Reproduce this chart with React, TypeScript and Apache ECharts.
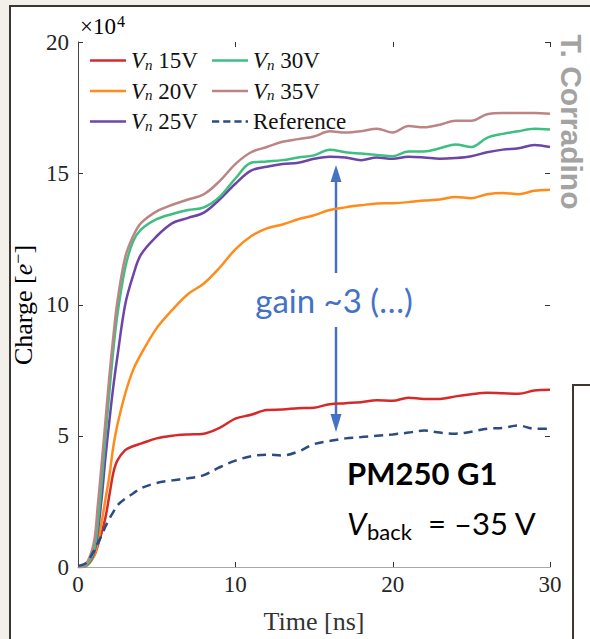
import React, { useEffect, useRef } from "react";
import * as echarts from "echarts";

// time axis (ns)
const TIME = [0, 0.5, 1, 1.25, 1.5, 1.75, 2, 2.25, 2.5, 3, 3.5, 4, 5, 6, 7, 8, 9, 10, 11, 12, 13, 14, 15, 16, 17, 18, 19, 20, 21, 22, 23, 24, 25, 26, 27, 28, 29, 30];

// charge values in units of 1e4 electrons
const VN15 = [0, 0.05, 0.4, 0.8, 1.3, 1.9, 2.75, 3.6, 4.05, 4.45, 4.6, 4.7, 4.9, 5.0, 5.05, 5.08, 5.3, 5.65, 5.8, 5.98, 6.0, 6.05, 6.07, 6.2, 6.24, 6.28, 6.35, 6.33, 6.45, 6.4, 6.4, 6.5, 6.58, 6.64, 6.62, 6.6, 6.72, 6.75];
const VN20 = [0, 0.03, 0.4, 0.9, 1.7, 2.6, 3.5, 4.6, 5.4, 6.6, 7.5, 8.1, 9.1, 9.8, 10.4, 10.8, 11.4, 12.1, 12.6, 12.9, 13.05, 13.25, 13.4, 13.6, 13.7, 13.78, 13.85, 13.86, 13.9, 13.96, 14.0, 14.1, 14.05, 14.2, 14.25, 14.2, 14.33, 14.37];
const VN25 = [0, 0.05, 0.5, 1.3, 2.6, 4.2, 5.6, 6.9, 8.0, 10.0, 11.1, 11.9, 12.6, 13.1, 13.3, 13.5, 14.0, 14.6, 15.1, 15.25, 15.35, 15.4, 15.55, 15.63, 15.6, 15.5, 15.6, 15.55, 15.63, 15.6, 15.55, 15.58, 15.65, 15.8, 15.9, 15.95, 16.08, 16.0];
const VN30 = [0, 0.05, 0.6, 1.6, 3.2, 5.0, 6.7, 8.3, 9.6, 11.4, 12.4, 12.85, 13.25, 13.45, 13.6, 13.7, 14.1, 14.8, 15.4, 15.45, 15.5, 15.6, 15.68, 15.9, 15.8, 15.75, 15.7, 15.65, 15.83, 15.83, 15.95, 16.1, 16.0, 16.35, 16.5, 16.6, 16.7, 16.67];
const VN35 = [0, 0.1, 0.9, 2.3, 3.9, 5.6, 7.3, 8.8, 10.1, 11.8, 12.6, 13.1, 13.55, 13.8, 14.0, 14.2, 14.7, 15.35, 15.8, 16.0, 16.2, 16.3, 16.4, 16.6, 16.55, 16.6, 16.7, 16.55, 16.8, 16.75, 16.85, 17.0, 17.0, 17.25, 17.3, 17.3, 17.3, 17.27];
const REFERENCE = [0.05, 0.15, 0.6, 0.9, 1.2, 1.55, 1.85, 2.1, 2.35, 2.6, 2.8, 3.0, 3.2, 3.3, 3.38, 3.5, 3.8, 4.05, 4.22, 4.28, 4.25, 4.4, 4.68, 4.8, 4.9, 4.95, 5.0, 5.05, 5.12, 5.2, 5.12, 5.08, 5.15, 5.27, 5.3, 5.39, 5.27, 5.27];

const X_TICKS = { min: 0, max: 30, interval: 10 };
const Y_TICKS = { min: 0, max: 20, interval: 5 };

const SERIES = [
  { name: "15V", values: VN15, color: "#d62a2a", dashed: false },
  { name: "20V", values: VN20, color: "#ff8c1a", dashed: false },
  { name: "25V", values: VN25, color: "#6d45a8", dashed: false },
  { name: "30V", values: VN30, color: "#3dbf80", dashed: false },
  { name: "35V", values: VN35, color: "#bc8585", dashed: false },
  { name: "Reference", values: REFERENCE, color: "#2c4b80", dashed: true },
];

const SERIF = '"Liberation Serif", "DejaVu Serif", serif';
const SANS = 'Lato, "Open Sans", sans-serif';
const BLUE = "#4472c4";
const DASH_ICON = "path://M0,0h9v3h-9z M14,0h9v3h-9z M28,0h9v3h-9z M42,0h3v3h-3z";

const tickValues = (t: { min: number; max: number; interval: number }) => {
  const out: number[] = [];
  for (let v = t.min; v <= t.max + 1e-9; v += t.interval) out.push(v);
  return out;
};

export default function App() {
  const ref = useRef<HTMLDivElement>(null);

  useEffect(() => {
    if (!ref.current) return;
    const chart = echarts.init(ref.current, undefined, { renderer: "svg" });

    const legendRich = {
      v: { fontFamily: SERIF, fontStyle: "italic", fontSize: 23, lineHeight: 22, color: "#111" },
      n: { fontFamily: SERIF, fontStyle: "italic", fontSize: 15, lineHeight: 14, padding: [8, 0, 0, 0], color: "#111" },
      t: { fontFamily: SERIF, fontSize: 23, lineHeight: 22, color: "#111" },
    };
    const legendFormatter = (name: string) =>
      name === "Reference" ? "{t|Reference}" : `{v|V}{n|n}{t| ${name}}`;
    const legendItem = (name: string) => ({
      name,
      icon: name === "Reference" ? DASH_ICON : "rect",
    });

    const legendBase = {
      orient: "vertical",
      top: 49,
      padding: 0,
      itemWidth: 36,
      itemHeight: 2.5,
      itemGap: 7.5,
      formatter: legendFormatter,
      textStyle: { rich: legendRich },
      selectedMode: false,
    };

    const grayLine = () => ({ show: true, lineStyle: { color: "#a8a8a8", width: 1 } });

    chart.setOption({
      animation: false,
      grid: { left: 78, right: 40, top: 42, bottom: 72 },
      legend: [
        { ...legendBase, left: 90, data: ["15V", "20V", "25V"].map(legendItem) },
        { ...legendBase, left: 212, data: ["30V", "35V", "Reference"].map(legendItem) },
      ],
      xAxis: [
        {
          type: "value",
          position: "bottom",
          ...X_TICKS,
          axisLine: grayLine(),
          axisTick: { show: false },
          splitLine: { show: false },
          axisLabel: { fontFamily: SERIF, fontSize: 23, color: "#262626", margin: 6 },
        },
        {
          type: "value",
          position: "top",
          ...X_TICKS,
          axisLine: grayLine(),
          axisTick: { show: false },
          splitLine: { show: false },
          axisLabel: { show: false },
        },
      ],
      yAxis: [
        {
          type: "value",
          position: "left",
          ...Y_TICKS,
          axisLine: grayLine(),
          axisTick: { show: false },
          splitLine: { show: false },
          axisLabel: { fontFamily: SERIF, fontSize: 23, color: "#262626", margin: 9 },
        },
        {
          type: "value",
          position: "right",
          ...Y_TICKS,
          axisLine: { show: true, lineStyle: { color: "#444", width: 1 } },
          axisTick: { show: false },
          splitLine: { show: false },
          axisLabel: { show: false },
        },
      ],
      series: SERIES.map((s) => ({
        name: s.name,
        type: "line",
        xAxisIndex: 0,
        yAxisIndex: 0,
        symbol: "none",
        smooth: 0.35,
        color: s.color,
        lineStyle: {
          color: s.color,
          width: 2.5,
          type: s.dashed ? [9, 6] : "solid",
        },
        data: TIME.map((t, i) => [t, s.values[i]]),
      })),
      graphic: {
        elements: [
          {
            id: "exp",
            type: "text",
            x: 80,
            y: 26,
            style: {
              text: "{a|×10}{s|4}",
              verticalAlign: "middle",
              rich: {
                a: { fontFamily: SERIF, fontSize: 23, color: "#262626", lineHeight: 24 },
                s: { fontFamily: SERIF, fontSize: 16, color: "#262626", lineHeight: 16, padding: [0, 0, 10, 1] },
              },
            },
          },
          {
            id: "ytitle",
            type: "text",
            x: 23,
            y: 305,
            rotation: Math.PI / 2,
            style: {
              text: "{a|Charge [}{i|e}{s|−}{a|]}",
              align: "center",
              verticalAlign: "middle",
              rich: {
                a: { fontFamily: SERIF, fontSize: 26, color: "#333", lineHeight: 28 },
                i: { fontFamily: SERIF, fontStyle: "italic", fontSize: 26, color: "#333", lineHeight: 28 },
                s: { fontFamily: SERIF, fontSize: 18, color: "#333", lineHeight: 18, padding: [0, 0, 10, 0] },
              },
            },
          },
          {
            id: "xtitle",
            type: "text",
            x: 314,
            y: 621,
            style: {
              text: "Time [ns]",
              align: "center",
              verticalAlign: "middle",
              font: `26px ${SERIF}`,
              fill: "#333",
            },
          },
          {
            id: "author",
            type: "text",
            x: 571,
            y: 122,
            rotation: -Math.PI / 2,
            style: {
              text: "T. Corradino",
              align: "center",
              verticalAlign: "middle",
              font: 'bold 30px "Liberation Sans", Arial, sans-serif',
              fill: "#a3a3a3",
            },
          },
          { id: "arr1", type: "line", shape: { x1: 336, y1: 273, x2: 336, y2: 178 }, style: { stroke: BLUE, lineWidth: 2.5 } },
          { id: "head1", type: "polygon", shape: { points: [[330.5, 182], [341.5, 182], [336, 165]] }, style: { fill: BLUE } },
          { id: "arr2", type: "line", shape: { x1: 336, y1: 327, x2: 336, y2: 418 }, style: { stroke: BLUE, lineWidth: 2.5 } },
          { id: "head2", type: "polygon", shape: { points: [[330.5, 414], [341.5, 414], [336, 432]] }, style: { fill: BLUE } },
          {
            id: "gain",
            type: "text",
            x: 334,
            y: 300,
            style: {
              text: "gain ~3 (…)",
              align: "center",
              verticalAlign: "middle",
              font: `33px ${SANS}`,
              fill: BLUE,
            },
          },
          {
            id: "pm",
            type: "text",
            x: 347,
            y: 473,
            style: {
              text: "PM250 G1",
              align: "left",
              verticalAlign: "middle",
              font: `bold 31px ${SANS}`,
              fill: "#000",
            },
          },
          {
            id: "vb1",
            type: "text",
            x: 347,
            y: 523,
            style: { text: "V", align: "left", verticalAlign: "middle", font: `italic 31px ${SANS}`, fill: "#000" },
          },
          {
            id: "vb2",
            type: "text",
            x: 367,
            y: 531,
            style: { text: "back", align: "left", verticalAlign: "middle", font: `22px ${SANS}`, fill: "#000" },
          },
          {
            id: "vb3",
            type: "text",
            x: 428,
            y: 523,
            style: { text: "= –35 V", align: "left", verticalAlign: "middle", font: `31px ${SANS}`, fill: "#000" },
          },
        ],
      },
    });

    // inward ticks on all four sides, positioned through the axes' own scales
    const px = (v: number) => chart.convertToPixel({ xAxisIndex: 0 }, v) as number;
    const py = (v: number) => chart.convertToPixel({ yAxisIndex: 0 }, v) as number;
    const x0 = px(X_TICKS.min);
    const x1 = px(X_TICKS.max);
    const y0 = py(Y_TICKS.min);
    const y1 = py(Y_TICKS.max);
    const L = 5;
    const tickStyle = { stroke: "#333", lineWidth: 1 };
    const tickEls: any[] = [];
    tickValues(X_TICKS).forEach((v, i) => {
      const x = Math.round(px(v)) + 0.5;
      tickEls.push({ id: `xb${i}`, type: "line", shape: { x1: x, y1: y0, x2: x, y2: y0 - L }, style: tickStyle });
      tickEls.push({ id: `xt${i}`, type: "line", shape: { x1: x, y1: y1, x2: x, y2: y1 + L }, style: tickStyle });
    });
    tickValues(Y_TICKS).forEach((v, i) => {
      const y = Math.round(py(v)) + 0.5;
      tickEls.push({ id: `yl${i}`, type: "line", shape: { x1: x0, y1: y, x2: x0 + L, y2: y }, style: tickStyle });
      tickEls.push({ id: `yr${i}`, type: "line", shape: { x1: x1, y1: y, x2: x1 - L, y2: y }, style: tickStyle });
    });
    chart.setOption({ graphic: { elements: tickEls } });

    return () => chart.dispose();
  }, []);

  return (
    <div
      style={{
        position: "absolute",
        left: 0,
        top: 0,
        width: 590,
        height: 639,
        overflow: "hidden",
        background: "#f3f0ea",
      }}
    >
      <div
        style={{
          position: "absolute",
          left: 9,
          top: 5,
          width: 640,
          height: 700,
          border: "2px solid #3d3731",
          background: "#fff",
        }}
      />
      <div
        style={{
          position: "absolute",
          left: 572,
          top: 384,
          width: 80,
          height: 400,
          border: "2px solid #3d3731",
          background: "#fff",
        }}
      />
      <div ref={ref} style={{ position: "absolute", left: 0, top: 0, width: 590, height: 639 }} />
    </div>
  );
}
